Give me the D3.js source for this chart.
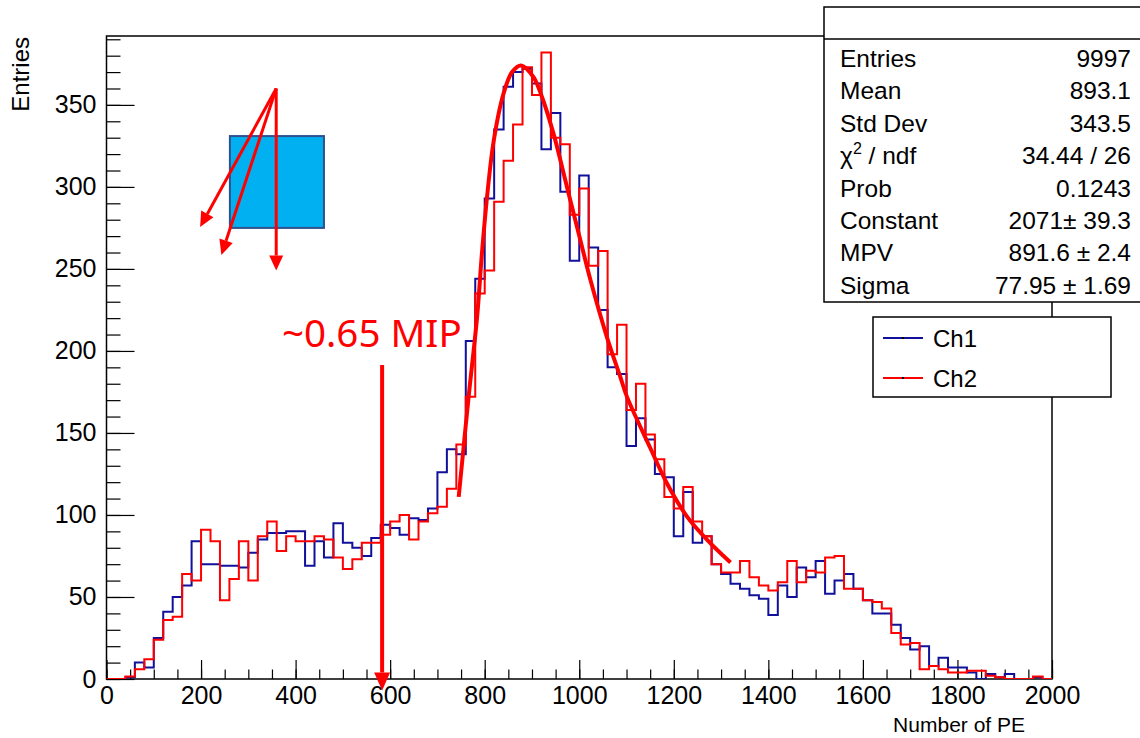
<!DOCTYPE html>
<html lang="en">
<head>
    <meta charset="UTF-8">
    <title>Number of PE - Ch1 / Ch2</title>
    <script src="https://d3js.org/d3.v7.min.js"></script>
    <style>
        body { margin: 0; background: #fff; }
        svg { display: block; }
        text { font-family: "Liberation Sans", Arial, Helvetica, sans-serif; fill: #000; }
        .axis path, .axis line { stroke: #000; stroke-width: 1.2px; }
        .axis text { font-size: 25px; }
        .stats text { font-size: 24.5px; }
    </style>
</head>
<body>
    <svg id="chart" width="1140" height="738"></svg>

    <script>
        // histogram, 100 bins of 20 PE from 0 to 2000
        const binWidth = 20;
        const ch1 = [0, 0, 1, 10, 7, 25, 41, 50, 57, 84,
                     70, 70, 69, 69, 68, 77, 85, 89, 89, 90,
                     90, 69, 84, 74, 95, 83, 80, 75, 86, 94,
                     92, 88, 98, 97, 104, 126, 140, 137, 206, 244,
                     293, 335, 361, 370, 372, 363, 323, 345, 297, 255,
                     307, 263, 225, 190, 186, 142, 159, 146, 125, 123,
                     87, 114, 83, 87, 70, 64, 58, 55, 51, 49,
                     39, 57, 50, 68, 62, 72, 52, 60, 64, 55,
                     48, 40, 40, 33, 25, 18, 20, 8, 13, 7,
                     7, 4, 0, 3, 1, 3, 0, 0, 1, 0];
        const ch2 = [0, 0, 1.5, 6, 12, 24, 36, 38, 64, 60,
                     91, 84, 48, 61, 84, 60, 87, 96, 78, 87,
                     84, 84, 87, 85, 74, 67, 73, 83, 83, 88,
                     96, 100, 85, 96, 101, 105, 116, 143, 172, 235,
                     249, 291, 316, 338, 373, 356, 382, 330, 326, 283,
                     299, 252, 261, 198, 216, 164, 180, 149, 134, 111,
                     104, 117, 96, 87, 70, 65, 65, 72, 62, 57,
                     54, 59, 72, 59, 66, 65, 74, 75, 55, 55,
                     48, 47, 43, 28, 21, 22, 6, 8, 6, 4,
                     4, 5, 5, 2, 1, 0, 0, 0, 1.5, 0];

        // fit curve
        const fitX = [745, 766, 784, 794, 805, 819, 840, 858, 877, 903, 921, 946,
                      974, 1002, 1023, 1059, 1087, 1101, 1150, 1186, 1228, 1270, 1320];
        const fitY = [111, 172, 221, 259, 294, 328, 357, 370, 374, 367, 355, 332,
                      300, 268, 244, 208, 184, 172, 141, 119, 99, 85, 71];

        const xTicks = [0, 200, 400, 600, 800, 1000, 1200, 1400, 1600, 1800, 2000];
        const yTicks = [0, 50, 100, 150, 200, 250, 300, 350];

        const statLabels = ["Entries", "Mean", "Std Dev", "chi2", "Prob", "Constant", "MPV", "Sigma"];
        const statValues = ["9997", "893.1", "343.5", "34.44 / 26", "0.1243",
                            "2071\u00b1 39.3", "891.6 \u00b1 2.4", "77.95 \u00b1 1.69"];

        const legendNames = ["Ch1", "Ch2"];
        const colors = ["#10109a", "#ff0000"];

        const svg = d3.select("#chart");

        const pLeft = 106.5, pRight = 1052, pTop = 36, pBottom = 679;

        const x = d3.scaleLinear().domain([0, 2000]).range([pLeft, pRight]);
        const y = d3.scaleLinear().domain([0, 392]).range([pBottom, pTop]);

        svg.append("defs").append("clipPath").attr("id", "plotclip")
            .append("rect")
            .attr("x", pLeft).attr("y", pTop)
            .attr("width", pRight - pLeft).attr("height", pBottom - pTop);

        // axes, ROOT style ticks pointing inwards
        svg.append("g").attr("class", "axis")
            .attr("transform", `translate(0,${pBottom})`)
            .call(d3.axisBottom(x).tickValues(d3.range(0, 2001, 50)).tickSize(-9.5).tickFormat(""))
            .call(g => g.select(".domain").remove());
        svg.append("g").attr("class", "axis")
            .attr("transform", `translate(0,${pBottom})`)
            .call(d3.axisBottom(x).tickValues(xTicks).tickSize(-19).tickPadding(7).tickFormat(d3.format("d")))
            .call(g => g.select(".domain").remove());

        svg.append("g").attr("class", "axis")
            .attr("transform", `translate(${pLeft},0)`)
            .call(d3.axisLeft(y).tickValues(d3.range(0, 391, 10)).tickSize(-14).tickFormat(""))
            .call(g => g.select(".domain").remove());
        svg.append("g").attr("class", "axis")
            .attr("transform", `translate(${pLeft},0)`)
            .call(d3.axisLeft(y).tickValues(yTicks).tickSize(-28).tickPadding(10).tickFormat(d3.format("d")))
            .call(g => g.select(".domain").remove());

        // frame
        svg.append("rect")
            .attr("x", pLeft).attr("y", pTop)
            .attr("width", pRight - pLeft).attr("height", pBottom - pTop)
            .attr("fill", "none").attr("stroke", "#000").attr("stroke-width", 1.5);

        // axis titles
        svg.append("text")
            .attr("transform", `translate(29,${pTop + 1}) rotate(-90)`)
            .attr("text-anchor", "end")
            .style("font-size", "24px")
            .text("Entries");
        svg.append("text")
            .attr("x", 1025).attr("y", 732)
            .attr("text-anchor", "end")
            .style("font-size", "21px")
            .text("Number of PE");

        // histograms
        const plot = svg.append("g").attr("clip-path", "url(#plotclip)");
        const step = d3.line()
            .x(d => x(d[0])).y(d => y(d[1]))
            .curve(d3.curveStepAfter);

        [ch1, ch2].forEach((vals, k) => {
            const pts = vals.map((v, i) => [i * binWidth, v]);
            pts.push([2000, vals[vals.length - 1]]);
            plot.append("path")
                .attr("d", step(pts))
                .attr("fill", "none")
                .attr("stroke", colors[k])
                .attr("stroke-width", 2);
        });

        // fit
        plot.append("path")
            .attr("d", d3.line().x(d => x(d[0])).y(d => y(d[1])).curve(d3.curveCatmullRom)(fitX.map((v, i) => [v, fitY[i]])))
            .attr("fill", "none")
            .attr("stroke", "#ff0000")
            .attr("stroke-width", 4);

        // stats box
        const stats = svg.append("g").attr("class", "stats");
        stats.append("rect")
            .attr("x", 824).attr("y", 7)
            .attr("width", 330).attr("height", 295)
            .attr("fill", "#fff").attr("stroke", "#000").attr("stroke-width", 1.5);
        stats.append("line")
            .attr("x1", 824).attr("x2", 1140).attr("y1", 39).attr("y2", 39)
            .attr("stroke", "#000").attr("stroke-width", 1.5);
        statLabels.forEach((lab, i) => {
            const yy = 67 + i * 32.4;
            const t = stats.append("text").attr("x", 840).attr("y", yy);
            if (lab === "chi2") {
                t.append("tspan").text("\u03c7");
                t.append("tspan").attr("dy", -10).style("font-size", "16px").text("2");
                t.append("tspan").attr("dy", 10).text(" / ndf");
            } else {
                t.text(lab);
            }
            stats.append("text")
                .attr("x", 1131).attr("y", yy)
                .attr("text-anchor", "end")
                .text(statValues[i]);
        });

        // legend
        const legend = svg.append("g");
        legend.append("rect")
            .attr("x", 873).attr("y", 317)
            .attr("width", 238).attr("height", 80)
            .attr("fill", "#fff").attr("stroke", "#000").attr("stroke-width", 1.5);
        legendNames.forEach((name, i) => {
            const yy = 338 + i * 40;
            legend.append("line")
                .attr("x1", 883).attr("x2", 923).attr("y1", yy).attr("y2", yy)
                .attr("stroke", colors[i]).attr("stroke-width", 2);
            legend.append("rect")
                .attr("x", 902).attr("y", yy - 1).attr("width", 2).attr("height", 2)
                .attr("fill", "#000");
            legend.append("text")
                .attr("x", 933).attr("y", yy + 8.5)
                .style("font-size", "24px")
                .text(name);
        });

        // annotations
        const ann = svg.append("g");
        const red = "#ff0000";

        function arrow(x1, y1, x2, y2, w, head, half) {
            const dx = x2 - x1, dy = y2 - y1, L = Math.hypot(dx, dy);
            const ux = dx / L, uy = dy / L;
            const bx = x2 - ux * head, by = y2 - uy * head;
            ann.append("line")
                .attr("x1", x1).attr("y1", y1).attr("x2", bx).attr("y2", by)
                .attr("stroke", red).attr("stroke-width", w);
            ann.append("path")
                .attr("d", `M${x2},${y2}L${bx - uy * half},${by + ux * half}L${bx + uy * half},${by - ux * half}Z`)
                .attr("fill", red);
        }

        ann.append("text")
            .attr("x", 282).attr("y", 347)
            .style("font-family", "'Noto Sans', 'Open Sans', sans-serif")
            .style("font-size", "38.5px")
            .style("fill", red)
            .text("~0.65 MIP");
        arrow(x(583), y(191.5), x(583), y(-7), 4, 18, 8);

        // pictogram: tile with incoming tracks
        ann.append("rect")
            .attr("x", x(261)).attr("y", y(331))
            .attr("width", x(460) - x(261)).attr("height", y(275) - y(331))
            .attr("fill", "#00b0f0").attr("stroke", "#2f528f").attr("stroke-width", 2);
        arrow(x(359), y(360), x(198), y(275.5), 3, 15, 7);
        arrow(x(359), y(360), x(243), y(258.5), 3, 15, 7);
        arrow(x(359), y(360), x(359), y(249), 3, 15, 7);
    </script>
</body>
</html>
